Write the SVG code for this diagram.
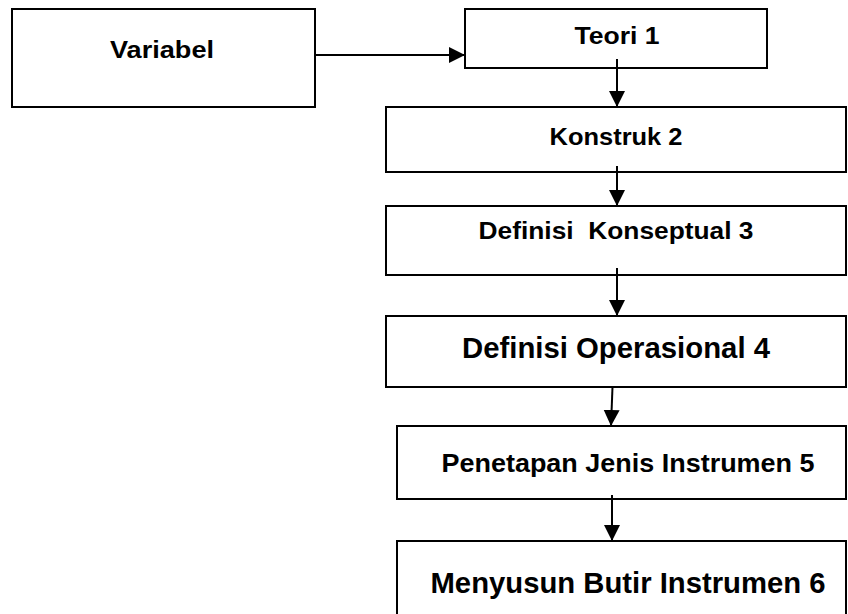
<svg xmlns="http://www.w3.org/2000/svg" width="848" height="614" viewBox="0 0 848 614">
<style>
.box{fill:#fff;stroke:#000;stroke-width:2}
.lbl{font-family:"Liberation Sans",Arial,sans-serif;font-weight:bold;fill:#000;text-anchor:middle}
.conn{stroke:#000;stroke-width:2;fill:none}
</style>
<defs>
<marker id="ah" markerUnits="userSpaceOnUse" markerWidth="18" markerHeight="18" refX="16" refY="8" orient="auto">
<path d="M0,0 L16,8 L0,16 z" fill="#000"/>
</marker>
</defs>
<rect width="848" height="614" fill="#fff"/>
<g id="variabel">
<rect class="box" x="12" y="9" width="303" height="98"/>
<text class="lbl" x="162" y="58" font-size="24" textLength="104" lengthAdjust="spacingAndGlyphs">Variabel</text>
</g>
<g id="teori">
<rect class="box" x="465" y="9" width="302" height="59"/>
<text class="lbl" x="617" y="44" font-size="24" textLength="85" lengthAdjust="spacingAndGlyphs">Teori 1</text>
</g>
<g id="konstruk">
<rect class="box" x="386" y="107" width="460" height="65"/>
<text class="lbl" x="616" y="145" font-size="24" textLength="133" lengthAdjust="spacingAndGlyphs">Konstruk 2</text>
</g>
<g id="konseptual">
<rect class="box" x="386" y="206" width="460" height="69"/>
<text class="lbl" x="616" y="239" font-size="23" textLength="275" lengthAdjust="spacingAndGlyphs" xml:space="preserve">Definisi  Konseptual 3</text>
</g>
<g id="operasional">
<rect class="box" x="386" y="316" width="460" height="71"/>
<text class="lbl" x="616" y="358" font-size="29" textLength="308" lengthAdjust="spacingAndGlyphs">Definisi Operasional 4</text>
</g>
<g id="penetapan">
<rect class="box" x="397" y="426" width="449" height="73"/>
<text class="lbl" x="628" y="472" font-size="25" textLength="373" lengthAdjust="spacingAndGlyphs">Penetapan Jenis Instrumen 5</text>
</g>
<g id="menyusun">
<rect class="box" x="397" y="541" width="449" height="80"/>
<text class="lbl" x="628" y="593" font-size="29" textLength="395" lengthAdjust="spacingAndGlyphs">Menyusun Butir Instrumen 6</text>
</g>
<g id="connectors">
<line class="conn" x1="315" y1="55" x2="465" y2="55" marker-end="url(#ah)"/>
<line class="conn" x1="617" y1="59" x2="617" y2="107" marker-end="url(#ah)"/>
<line class="conn" x1="617" y1="166" x2="617" y2="206" marker-end="url(#ah)"/>
<line class="conn" x1="617" y1="268" x2="617" y2="316" marker-end="url(#ah)"/>
<line class="conn" x1="612.5" y1="387" x2="611" y2="426" marker-end="url(#ah)"/>
<line class="conn" x1="612" y1="495" x2="612" y2="541" marker-end="url(#ah)"/>
</g>
</svg>
